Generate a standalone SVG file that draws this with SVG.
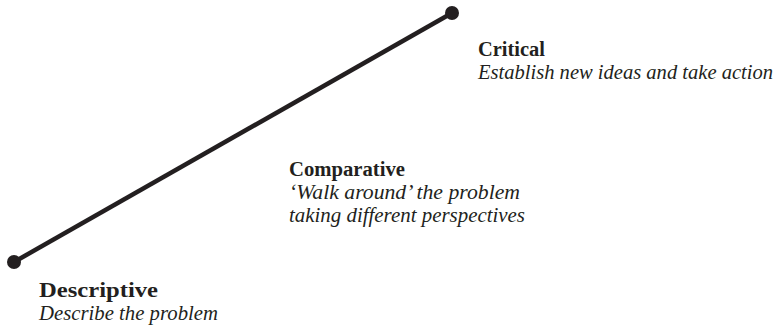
<svg xmlns="http://www.w3.org/2000/svg" width="778" height="327" viewBox="0 0 778 327">
<style>
.h{font-family:'Liberation Serif',serif;font-weight:bold;font-size:20px;fill:#231f20}
.s{font-family:'Liberation Serif',serif;font-style:italic;font-size:20px;fill:#231f20}
.dot{fill:#231f20}
</style>
<rect width="778" height="327" fill="#fff"/>
<g id="connectors">
<line x1="14" y1="262" x2="452" y2="13" stroke="#231f20" stroke-width="4.5"/>
</g>
<g id="descriptive">
<circle class="dot" cx="14" cy="262" r="7"/>
<text class="h" x="39" y="297" textLength="119" lengthAdjust="spacingAndGlyphs">Descriptive</text>
<text class="s" x="39" y="320" textLength="179" lengthAdjust="spacingAndGlyphs">Describe the problem</text>
</g>
<g id="comparative">
<text class="h" x="289" y="176" textLength="116" lengthAdjust="spacingAndGlyphs">Comparative</text>
<text class="s" x="289" y="199" textLength="231" lengthAdjust="spacingAndGlyphs">‘Walk around’ the problem</text>
<text class="s" x="289" y="222" textLength="236" lengthAdjust="spacingAndGlyphs">taking different perspectives</text>
</g>
<g id="critical">
<circle class="dot" cx="452" cy="13" r="7"/>
<text class="h" x="478" y="56" textLength="67" lengthAdjust="spacingAndGlyphs">Critical</text>
<text class="s" x="478" y="79" textLength="295" lengthAdjust="spacingAndGlyphs">Establish new ideas and take action</text>
</g>
</svg>
